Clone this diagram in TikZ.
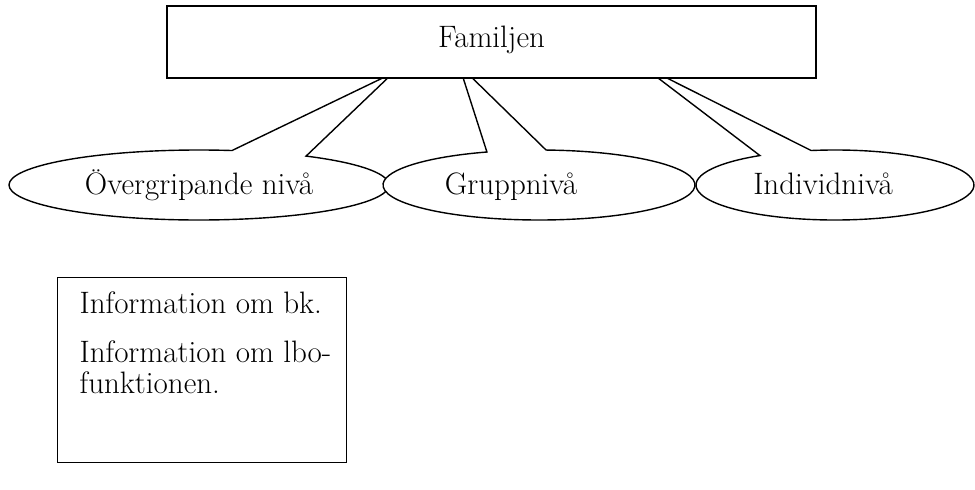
\documentclass[tikz,border=0pt]{standalone}
\usepackage{fontspec}
\usetikzlibrary{calc}
\begin{document}
\begin{tikzpicture}[x=1pt,y=-1pt,line width=1.4pt,line join=miter,
  callout/.style={draw,fill=white},
  txt/.style={font=\fontsize{31}{34}\selectfont,inner sep=0pt,anchor=base},
  boxnode/.style={draw,fill=white,inner sep=0pt}]
\useasboundingbox (0,0) rectangle (975,490);
% callout 1
\coordinate (c1) at (199,185);
\coordinate (e1b) at ($(c1)+(-55.7:190 and 35)$);
\coordinate (t1) at (393,73);
\draw[callout] (e1b) arc[start angle=-55.7,end angle=280,x radius=190,y radius=35] -- (t1) -- cycle;
\node[txt] (l1) at (199,194) {Övergripande nivå};
% callout 2
\coordinate (c2) at (539,185);
\coordinate (e2b) at ($(c2)+(-87.4:156 and 35)$);
\coordinate (t2) at (459,65);
\draw[callout] (e2b) arc[start angle=-87.4,end angle=250.5,x radius=156,y radius=35] -- (t2) -- cycle;
\node[txt] (l2) at (511,194) {Gruppnivå};
% callout 3
\coordinate (c3) at (835,185);
\coordinate (e3b) at ($(c3)+(-99.9:139 and 35)$);
\coordinate (t3) at (641,65);
\draw[callout] (e3b) arc[start angle=-99.9,end angle=237.3,x radius=139,y radius=35] -- (t3) -- cycle;
\node[txt] (l3) at (823,194) {Individnivå};
% top box
\node[boxnode,minimum width=649pt,minimum height=72pt] (fam) at (491.5,42) {};
\node[txt] (lf) at (491.5,47) {Familjen};
% info box
\node[boxnode,minimum width=289pt,minimum height=185pt,anchor=north west] (info) at (57,277) {};
\node[txt,anchor=base west] (i1) at (79,313) {Information om bk.};
\node[txt,anchor=base west] (i2) at (79,362) {Information om lbo-};
\node[txt,anchor=base west] (i3) at (79,393) {funktionen.};
\end{tikzpicture}
\end{document}
